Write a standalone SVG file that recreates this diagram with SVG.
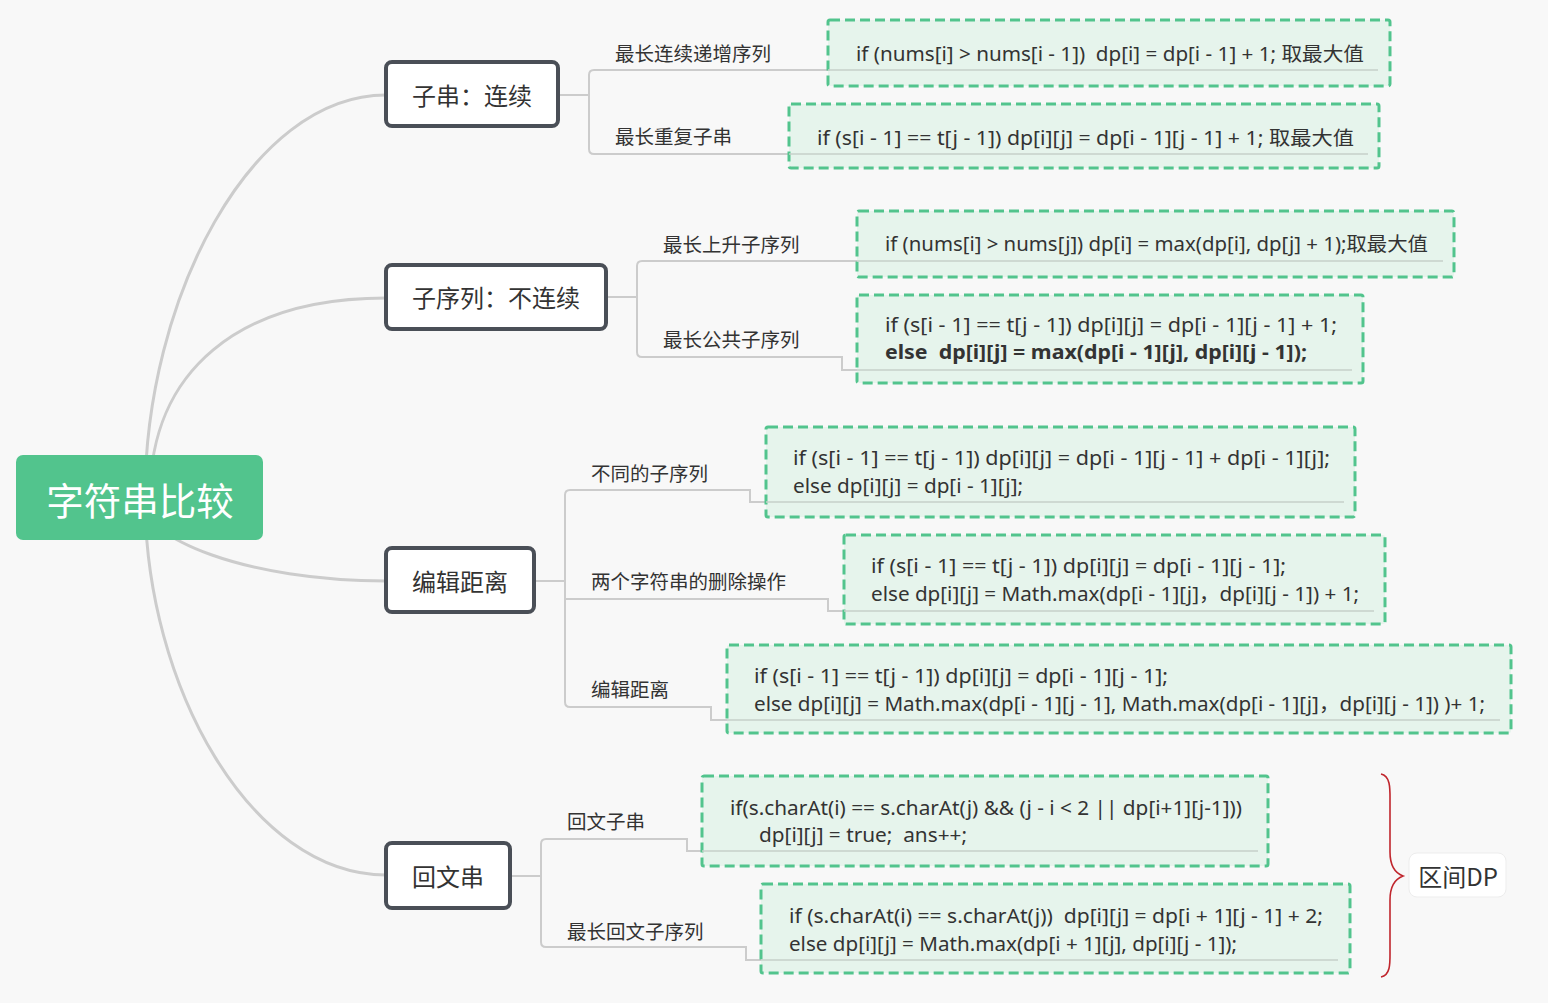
<svg xmlns="http://www.w3.org/2000/svg" width="1548" height="1003" viewBox="0 0 1548 1003">
<style>
.bg{fill:#F8F8F8}
.curve{fill:none;stroke:#CCCCCC;stroke-width:3}
.conn{fill:none;stroke:#CCCCCC;stroke-width:2}
.root{fill:#52C48D}
.roottxt{font-family:"Noto Sans CJK SC",sans-serif;font-size:37.5px;fill:#FFFFFF;text-anchor:middle}
.branch{fill:#FFFFFF;stroke:#4A4F57;stroke-width:4}
.btxt{font-family:"Noto Sans CJK SC",sans-serif;font-size:24px;fill:#333333;text-anchor:middle}
.lbl{font-family:"Noto Sans CJK SC",sans-serif;font-size:19.5px;fill:#333333}
.box{fill:#E6F4EC;stroke:#52C48D;stroke-width:3;stroke-dasharray:10 5}
.ul{fill:none;stroke:#C6D0CA;stroke-width:1.5}
.code{font-family:"Noto Sans","Noto Sans CJK SC",sans-serif;font-size:19.5px;fill:#333333;white-space:pre}
.bold{font-weight:bold}
.brace{fill:none;stroke:#C0262D;stroke-width:1.6}
.tag{fill:#FFFFFF;stroke:#EDEDED;stroke-width:1}
</style>
<rect class="bg" x="0" y="0" width="1548" height="1003"/>

<g id="connectors">
<path class="curve" d="M145,497 C145,300 250,95 386,95"/>
<path class="curve" d="M150,497 C150,370 240,298 386,298"/>
<path class="curve" d="M140,497 C140,539 248,581 386,581"/>
<path class="curve" d="M145,497 C145,686 251,875 386,875"/>

<path class="conn" d="M558,95 H589"/>
<path class="conn" d="M828,70 H594 Q589,70 589,75 V149 Q589,154 594,154 H789"/>

<path class="conn" d="M606,297 H637"/>
<path class="conn" d="M857,261 H642 Q637,261 637,266 V352 Q637,357 642,357 H842 V370 H857"/>

<path class="conn" d="M534,581 H565"/>
<path class="conn" d="M766,502 H750 V490 H570 Q565,490 565,495 V702 Q565,707 570,707 H711 V720 H727"/>
<path class="conn" d="M565,599 H828 V611 H844"/>

<path class="conn" d="M510,876 H541"/>
<path class="conn" d="M702,851 H687 V839 H546 Q541,839 541,844 V942 Q541,947 546,947 H746 V960 H761"/>

<path class="brace" d="M1381,774 C1391,776 1390,790 1390,802 L1390,852 C1390,866 1395,873 1403,876 C1395,879 1390,886 1390,900 L1390,950 C1390,962 1391,975 1381,977"/>
</g>

<g id="root">
<rect class="root" x="16" y="455" width="247" height="85" rx="7"/>
<text class="roottxt" x="140" y="515">字符串比较</text>
</g>

<g id="b1">
<rect class="branch" x="386" y="62" width="172" height="64" rx="6"/>
<text class="btxt" x="472" y="105">子串：连续</text>
</g>
<g id="b2">
<rect class="branch" x="386" y="265" width="220" height="64" rx="6"/>
<text class="btxt" x="496" y="307">子序列：不连续</text>
</g>
<g id="b3">
<rect class="branch" x="386" y="548" width="148" height="64" rx="6"/>
<text class="btxt" x="460" y="591">编辑距离</text>
</g>
<g id="b4">
<rect class="branch" x="386" y="843" width="124" height="65" rx="6"/>
<text class="btxt" x="448" y="886">回文串</text>
</g>

<g id="l1"><text class="lbl" x="615" y="61">最长连续递增序列</text></g>
<g id="l2"><text class="lbl" x="615" y="144">最长重复子串</text></g>
<g id="l3"><text class="lbl" x="663" y="252">最长上升子序列</text></g>
<g id="l4"><text class="lbl" x="663" y="347">最长公共子序列</text></g>
<g id="l5"><text class="lbl" x="591" y="481">不同的子序列</text></g>
<g id="l6"><text class="lbl" x="591" y="589">两个字符串的删除操作</text></g>
<g id="l7"><text class="lbl" x="591" y="697">编辑距离</text></g>
<g id="l8"><text class="lbl" x="567" y="829">回文子串</text></g>
<g id="l9"><text class="lbl" x="567" y="939">最长回文子序列</text></g>

<g id="c1">
<rect class="box" x="828" y="20" width="562" height="66" rx="2"/>
<path class="ul" d="M828,70 H1378"/>
<text class="code" xml:space="preserve" x="856" y="61" textLength="508" lengthAdjust="spacingAndGlyphs">if (nums[i] &gt; nums[i - 1])  dp[i] = dp[i - 1] + 1; 取最大值</text>
</g>
<g id="c2">
<rect class="box" x="789" y="104" width="590" height="64" rx="2"/>
<path class="ul" d="M789,154 H1368"/>
<text class="code" xml:space="preserve" x="817" y="145" textLength="537" lengthAdjust="spacingAndGlyphs">if (s[i - 1] == t[j - 1]) dp[i][j] = dp[i - 1][j - 1] + 1; 取最大值</text>
</g>
<g id="c3">
<rect class="box" x="857" y="211" width="597" height="66" rx="2"/>
<path class="ul" d="M857,261 H1443"/>
<text class="code" xml:space="preserve" x="885" y="251" textLength="543" lengthAdjust="spacingAndGlyphs">if (nums[i] &gt; nums[j]) dp[i] = max(dp[i], dp[j] + 1);取最大值</text>
</g>
<g id="c4">
<rect class="box" x="857" y="295" width="506" height="88" rx="2"/>
<path class="ul" d="M857,370 H1352"/>
<text class="code" xml:space="preserve" x="885" y="332" textLength="452" lengthAdjust="spacingAndGlyphs">if (s[i - 1] == t[j - 1]) dp[i][j] = dp[i - 1][j - 1] + 1;</text>
<text class="code bold" xml:space="preserve" x="885" y="359" textLength="422" lengthAdjust="spacingAndGlyphs">else  dp[i][j] = max(dp[i - 1][j], dp[i][j - 1]);</text>
</g>
<g id="c5">
<rect class="box" x="766" y="427" width="589" height="90" rx="2"/>
<path class="ul" d="M766,502 H1344"/>
<text class="code" xml:space="preserve" x="793" y="465" textLength="537" lengthAdjust="spacingAndGlyphs">if (s[i - 1] == t[j - 1]) dp[i][j] = dp[i - 1][j - 1] + dp[i - 1][j];</text>
<text class="code" xml:space="preserve" x="793" y="493" textLength="230" lengthAdjust="spacingAndGlyphs">else dp[i][j] = dp[i - 1][j];</text>
</g>
<g id="c6">
<rect class="box" x="844" y="535" width="541" height="89" rx="2"/>
<path class="ul" d="M844,611 H1374"/>
<text class="code" xml:space="preserve" x="871" y="573" textLength="415" lengthAdjust="spacingAndGlyphs">if (s[i - 1] == t[j - 1]) dp[i][j] = dp[i - 1][j - 1];</text>
<text class="code" xml:space="preserve" x="871" y="601" textLength="488" lengthAdjust="spacingAndGlyphs">else dp[i][j] = Math.max(dp[i - 1][j]，dp[i][j - 1]) + 1;</text>
</g>
<g id="c7">
<rect class="box" x="727" y="645" width="784" height="88" rx="2"/>
<path class="ul" d="M727,720 H1500"/>
<text class="code" xml:space="preserve" x="754" y="683" textLength="414" lengthAdjust="spacingAndGlyphs">if (s[i - 1] == t[j - 1]) dp[i][j] = dp[i - 1][j - 1];</text>
<text class="code" xml:space="preserve" x="754" y="711" textLength="731" lengthAdjust="spacingAndGlyphs">else dp[i][j] = Math.max(dp[i - 1][j - 1], Math.max(dp[i - 1][j]，dp[i][j - 1]) )+ 1;</text>
</g>
<g id="c8">
<rect class="box" x="702" y="776" width="566" height="90" rx="2"/>
<path class="ul" d="M702,851 H1258"/>
<text class="code" xml:space="preserve" x="730" y="815" textLength="512" lengthAdjust="spacingAndGlyphs">if(s.charAt(i) == s.charAt(j) &amp;&amp; (j - i &lt; 2 || dp[i+1][j-1]))</text>
<text class="code" xml:space="preserve" x="759" y="842" textLength="208" lengthAdjust="spacingAndGlyphs">dp[i][j] = true;  ans++;</text>
</g>
<g id="c9">
<rect class="box" x="761" y="884" width="589" height="89" rx="2"/>
<path class="ul" d="M761,960 H1338"/>
<text class="code" xml:space="preserve" x="789" y="923" textLength="534" lengthAdjust="spacingAndGlyphs">if (s.charAt(i) == s.charAt(j))  dp[i][j] = dp[i + 1][j - 1] + 2;</text>
<text class="code" xml:space="preserve" x="789" y="951" textLength="448" lengthAdjust="spacingAndGlyphs">else dp[i][j] = Math.max(dp[i + 1][j], dp[i][j - 1]);</text>
</g>

<g id="summary">
<rect class="tag" x="1409" y="853" width="97" height="44" rx="8"/>
<text class="btxt" x="1458" y="886">区间DP</text>
</g>
</svg>
